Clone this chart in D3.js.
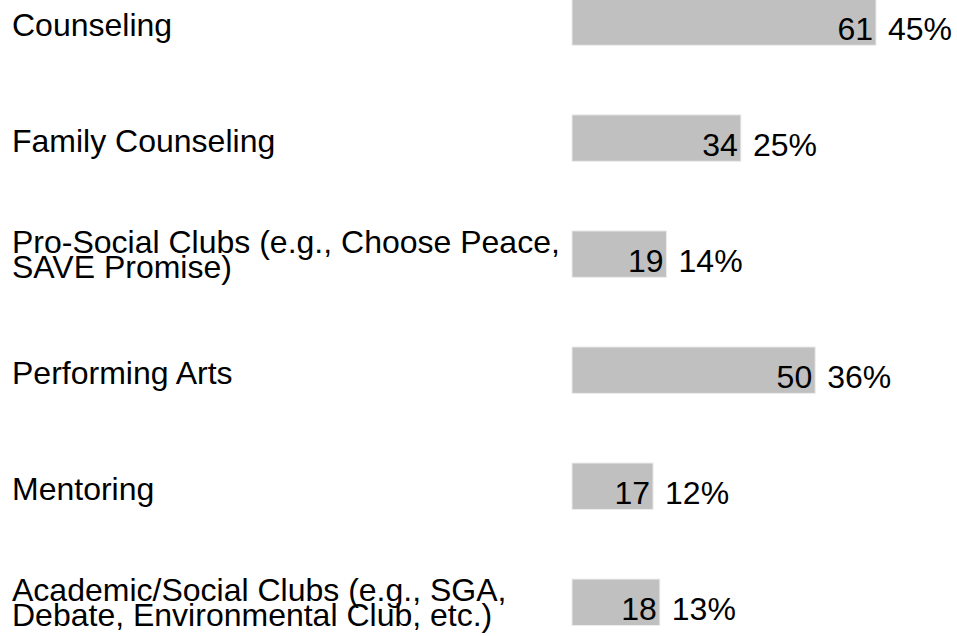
<!DOCTYPE html>
<html>
<head>
<meta charset="utf-8">
<script src="https://cdn.jsdelivr.net/npm/d3@7"></script>
<style>
  html, body { margin: 0; padding: 0; background: #fff; }
  svg text { font-family: "Liberation Sans", Arial, sans-serif; fill: #000; }
</style>
</head>
<body>
<svg id="chart" width="957" height="636"></svg>
<script>
// horizontal bars: count inside the bar, share to the right of it
const categories = [
  ['Counseling'],
  ['Family Counseling'],
  ['Pro-Social Clubs (e.g., Choose Peace,', 'SAVE Promise)'],
  ['Performing Arts'],
  ['Mentoring'],
  ['Academic/Social Clubs (e.g., SGA,', 'Debate, Environmental Club, etc.)']
];
const counts = [61, 34, 19, 50, 17, 18];
const pcts = [45, 25, 14, 36, 12, 13];

const W = 957, H = 636, FS = 32;
const svg = d3.select('#chart');
const idx = d3.range(categories.length);

const x = d3.scaleLinear().domain([0, 45]).range([572, 876]);
const y = d3.scaleBand().domain(idx).range([-36, 660.3]).paddingInner(0.6).paddingOuter(0.3);
const mid = i => y(i) + y.bandwidth() / 2;

svg.selectAll('rect.bar').data(idx).join('rect')
  .attr('class', 'bar')
  .attr('x', x(0))
  .attr('y', i => y(i))
  .attr('width', i => x(pcts[i]) - x(0))
  .attr('height', y.bandwidth())
  .attr('fill', '#c0c0c0')
  .attr('stroke', '#ececec')
  .attr('stroke-width', 1);

// category labels, some wrapped on two tight lines
const lab = svg.selectAll('text.cat').data(idx).join('text')
  .attr('class', 'cat')
  .attr('x', 12)
  .attr('font-size', FS);
lab.each(function (i) {
  const lines = categories[i];
  const base = lines.length === 1 ? mid(i) + 14 : mid(i) - 1;
  d3.select(this).selectAll('tspan').data(lines).join('tspan')
    .attr('x', 12)
    .attr('y', (d, k) => base + k * 25)
    .text(d => d);
});

svg.selectAll('text.val').data(idx).join('text')
  .attr('class', 'val')
  .attr('x', i => x(pcts[i]) - 3)
  .attr('y', i => mid(i) + 18)
  .attr('text-anchor', 'end')
  .attr('font-size', FS)
  .text(i => counts[i]);

svg.selectAll('text.pct').data(idx).join('text')
  .attr('class', 'pct')
  .attr('x', i => x(pcts[i]) + 12)
  .attr('y', i => mid(i) + 18)
  .attr('font-size', FS)
  .text(i => pcts[i] + '%');
</script>
</body>
</html>
